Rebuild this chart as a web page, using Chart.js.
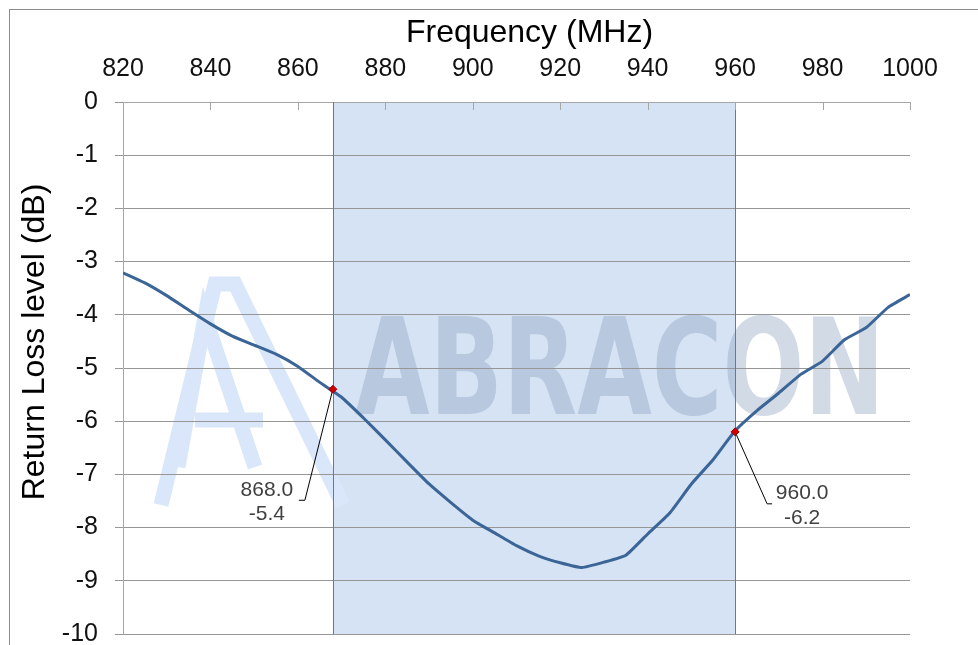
<!DOCTYPE html>
<html>
<head>
<meta charset="utf-8">
<script src="https://cdn.jsdelivr.net/npm/chart.js@4.4.1/dist/chart.umd.min.js"></script>
<style>
  body { margin: 0; background: #fff; }
  #wrap { width: 978px; height: 645px; }
</style>
</head>
<body>
<div id="wrap"><canvas id="rlChart" width="978" height="645"></canvas></div>
<script>
// measured sweep, every 5 MHz
const freq = [820, 825, 830, 835, 840, 845, 850, 855, 860, 865, 870, 875, 880, 885, 890, 895, 900,
              905, 910, 915, 920, 925, 930, 935, 940, 945, 950, 955, 960, 965, 970, 975, 980, 985, 990, 995, 1000];
const returnLoss = [-3.21, -3.40, -3.64, -3.91, -4.17, -4.40, -4.57, -4.74, -4.97, -5.27, -5.55, -5.94, -6.35, -6.77, -7.18, -7.53, -7.86,
                    -8.10, -8.34, -8.53, -8.66, -8.75, -8.65, -8.52, -8.12, -7.73, -7.18, -6.72, -6.18, -5.80, -5.47, -5.12, -4.87, -4.47, -4.24, -3.86, -3.62];
const bandStart = 868;
const bandEnd = 960;
const markerFreq = [868, 960];
const markerLevel = [-5.4, -6.2];
const xTitle = 'Frequency (MHz)';
const yTitle = 'Return Loss level (dB)';

// callout geometry (px from the marker): elbow point, label centre
const callouts = [
    { ex: -28, ey: 111, hx: -34, tx: -66, ty1: 101, ty2: 125 },
    { ex: 32, ey: 72, hx: 37, tx: 67, ty1: 61, ty2: 86 }
];

const FONT = '"Liberation Sans", Arial, sans-serif';
const ctx = document.getElementById('rlChart').getContext('2d');

const decor = {
    id: 'decor',
    beforeDraw(chart) {
        const c = chart.ctx, a = chart.chartArea;
        const x = chart.scales.x;
        c.save();
        // frame
        c.strokeStyle = '#8c8c8c';
        c.lineWidth = 1;
        c.strokeRect(9.5, 9.5, 978, 645);

        c.beginPath();
        c.rect(a.left, a.top, a.right - a.left, a.bottom - a.top);
        c.clip();

        // band
        const b0 = x.getPixelForValue(bandStart), b1 = x.getPixelForValue(bandEnd);
        c.fillStyle = '#d6e3f4';
        c.fillRect(b0, a.top, b1 - b0, a.bottom - a.top);

        // logo
        c.strokeStyle = '#dae7fa';
        c.lineWidth = 15;
        c.lineCap = 'butt';
        c.lineJoin = 'miter';
        const L = a.left;
        c.beginPath();
        c.moveTo(L + 38, a.top + 403); c.lineTo(L + 92, a.top + 182); c.lineTo(L + 112, a.top + 182); c.lineTo(L + 220, a.top + 403);
        c.stroke();
        c.beginPath();
        c.moveTo(L + 55, a.top + 365); c.lineTo(L + 82, a.top + 215); c.lineTo(L + 132, a.top + 365);
        c.stroke();
        c.beginPath();
        c.moveTo(L + 72, a.top + 318); c.lineTo(L + 140, a.top + 318);
        c.stroke();

        // wordmark
        c.fillStyle = 'rgba(130,152,186,0.36)';
        c.font = 'bold 134px "DejaVu Sans Condensed", "DejaVu Sans", sans-serif';
        c.textBaseline = 'alphabetic';
        const w = c.measureText('ABRACON').width;
        const targetW = 530;
        c.translate(L + 232, a.top + 312);
        c.scale(targetW / w, 1);
        c.fillText('ABRACON', 0, 0);
        c.restore();
    },
    afterDraw(chart) {
        const c = chart.ctx, a = chart.chartArea;
        const x = chart.scales.x, y = chart.scales.y;
        c.save();
        // band edges
        c.strokeStyle = '#4a7fc4';
        c.lineWidth = 1;
        [bandStart, bandEnd].forEach(v => {
            const px = Math.round(x.getPixelForValue(v)) + 0.5;
            c.beginPath(); c.moveTo(px, a.top); c.lineTo(px, a.bottom); c.stroke();
        });
        // inner tick marks on the top axis
        c.strokeStyle = '#a6a6a6';
        x.ticks.forEach(t => {
            const px = Math.round(x.getPixelForValue(t.value)) + 0.5;
            c.beginPath(); c.moveTo(px, a.top); c.lineTo(px, a.top + 8); c.stroke();
        });

        // titles
        c.fillStyle = '#000';
        c.font = '32px ' + FONT;
        c.textAlign = 'center';
        c.textBaseline = 'middle';
        c.fillText(xTitle, (a.left + a.right) / 2 + 13, 33);
        c.save();
        c.translate(35, (a.top + a.bottom) / 2 - 26);
        c.rotate(-Math.PI / 2);
        c.fillText(yTitle, 0, 0);
        c.restore();

        // callouts
        c.font = '21px ' + FONT;
        markerFreq.forEach((f, i) => {
            const px = x.getPixelForValue(f), py = y.getPixelForValue(markerLevel[i]);
            const o = callouts[i];
            c.strokeStyle = '#000';
            c.lineWidth = 1;
            c.beginPath();
            c.moveTo(px, py);
            c.lineTo(px + o.ex, py + o.ey);
            c.lineTo(px + o.hx, py + o.ey);
            c.stroke();
            c.fillStyle = '#404040';
            c.fillText(f.toFixed(1), px + o.tx, py + o.ty1);
            c.fillText(markerLevel[i].toFixed(1), px + o.tx, py + o.ty2);
        });
        // markers on top
        markerFreq.forEach((f, i) => {
            const px = x.getPixelForValue(f), py = y.getPixelForValue(markerLevel[i]);
            c.fillStyle = '#d00000';
            c.strokeStyle = '#9a0000';
            c.beginPath();
            c.moveTo(px, py - 4); c.lineTo(px + 4, py); c.lineTo(px, py + 4); c.lineTo(px - 4, py);
            c.closePath(); c.fill(); c.stroke();
        });
        c.restore();
    }
};

const chart = new Chart(ctx, {
    type: 'line',
    data: {
        datasets: [{
            label: 'Return loss',
            data: freq.map((f, i) => ({ x: f, y: returnLoss[i] })),
            borderColor: '#3b6597',
            borderWidth: 3,
            pointRadius: 0,
            tension: 0.15
        }]
    },
    options: {
        responsive: false,
        animation: false,
        layout: { padding: { left: 10, top: 10, right: 68, bottom: 11 } },
        plugins: { legend: { display: false }, tooltip: { enabled: false } },
        scales: {
            x: {
                type: 'linear',
                position: 'top',
                min: 820,
                max: 1000,
                ticks: { stepSize: 20, padding: 18, color: '#111', font: { size: 25, family: FONT },
                         callback: v => String(v) },
                grid: { drawOnChartArea: false, drawTicks: false },
                border: { color: '#a6a6a6', width: 1 },
                afterFit(s) { s.height = 92; s.paddingLeft = 0; s.paddingRight = 0; }
            },
            y: {
                min: -10,
                max: 0,
                ticks: { stepSize: 1, padding: 17, color: '#111', font: { size: 25, family: FONT } },
                grid: { color: '#969696', tickLength: 8 },
                border: { color: '#a6a6a6', width: 1 },
                afterFit(s) { s.width = 113; s.paddingTop = 0; s.paddingBottom = 0; }
            }
        }
    },
    plugins: [decor]
});
</script>
</body>
</html>
